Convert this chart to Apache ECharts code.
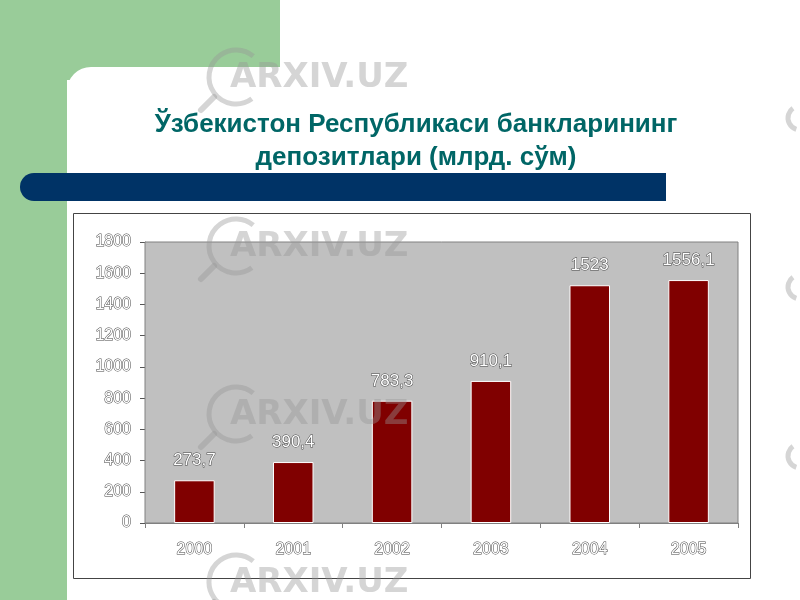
<!DOCTYPE html>
<html><head><meta charset="utf-8">
<script src="https://cdn.jsdelivr.net/npm/echarts@6/dist/echarts.min.js"></script>
<style>html,body{margin:0;padding:0;background:#fff}#c{width:800px;height:600px}</style>
</head><body><div id="c"></div>
<script>
const years = ['2000','2001','2002','2003','2004','2005'];
const deposits = [273.7, 390.4, 783.3, 910.1, 1523, 1556.1];
const yTicks = [0,200,400,600,800,1000,1200,1400,1600,1800];
const titleLines = ['Ўзбекистон Республикаси банкларининг', 'депозитлари (млрд. сўм)'];
const watermark = 'ARXIV.UZ';

const chart = echarts.init(document.getElementById('c'), null, {renderer:'canvas'});
const wmY = [77, 246, 414, 582];
const wm = [];
wmY.forEach(y => {
  wm.push({type:'arc', shape:{cx:236, cy:y, r:27, startAngle:Math.PI*0.3, endAngle:Math.PI*1.72},
    style:{stroke:'rgba(150,150,150,0.4)', lineWidth:5, fill:null}, z:100, silent:true});
  wm.push({type:'line', shape:{x1:214, y1:y+20, x2:201, y2:y+33},
    style:{stroke:'rgba(150,150,150,0.4)', lineWidth:6, lineCap:'round'}, z:100, silent:true});
  wm.push({type:'text', x:230, y:y-16, style:{text:watermark, font:'bold 34px "DejaVu Sans", sans-serif',
    fill:'rgba(150,150,150,0.4)', letterSpacing:2}, z:100, silent:true});
});
[118, 287, 456].forEach(y => {
  wm.push({type:'arc', shape:{cx:800, cy:y, r:12, startAngle:Math.PI*0.6, endAngle:Math.PI*1.3},
    style:{stroke:'rgba(150,150,150,0.4)', lineWidth:5, fill:null}, z:100, silent:true});
});

const lbl = {color:'#ffffff', textBorderColor:'#444', textBorderWidth:1, fontFamily:'"Liberation Sans", Arial, sans-serif'};

chart.setOption({
  animation:false,
  backgroundColor:'#ffffff',
  graphic:[
    {type:'group', z:-10, children:[
      {type:'rect', shape:{x:0,y:0,width:280,height:80}, style:{fill:'#99cc99'}},
      {type:'rect', shape:{x:0,y:0,width:67,height:600}, style:{fill:'#99cc99'}},
      {type:'rect', shape:{x:67,y:67,width:760,height:560,r:24}, style:{fill:'#ffffff'}},
      {type:'rect', shape:{x:20,y:173,width:646,height:28,r:[14,0,0,14]}, style:{fill:'#003366'}},
      {type:'rect', shape:{x:73.5,y:213.5,width:677,height:365}, style:{fill:null, stroke:'#444', lineWidth:1}}
    ]},
    ...wm
  ],
  title:{
    text: titleLines.join('\n'),
    left: 411, top: 103, textAlign:'center',
    textStyle:{color:'#006666', fontSize:26, fontWeight:'bold', fontFamily:'"Liberation Sans", Arial, sans-serif', lineHeight:33}
  },
  grid:{left:145, right:62, top:242, bottom:77, show:true, backgroundColor:'#c0c0c0', borderColor:'#808080', borderWidth:1, z:1},
  xAxis:{
    type:'category', data:years,
    axisLine:{show:true, lineStyle:{color:'#808080'}},
    axisTick:{show:true, length:5, lineStyle:{color:'#808080'}},
    axisLabel:Object.assign({margin:19, fontSize:16}, lbl)
  },
  yAxis:{
    type:'value', min:0, max:1800, interval:200,
    axisLine:{show:true, lineStyle:{color:'#808080'}},
    axisTick:{show:true, length:5, lineStyle:{color:'#555'}},
    splitLine:{lineStyle:{color:'#666', width:1}},
    axisLabel:Object.assign({margin:14, fontSize:16,
      formatter: v => yTicks.includes(v) ? String(v) : ''}, lbl)
  },
  series:[{
    type:'bar', data:deposits, barWidth:'41%',
    itemStyle:{color:'#800000', borderColor:'#ffffff', borderWidth:1},
    label:Object.assign({show:true, position:'top', distance:11, fontSize:17,
      formatter: p => String(p.value).replace('.', ',')}, lbl)
  }]
});
</script></body></html>
